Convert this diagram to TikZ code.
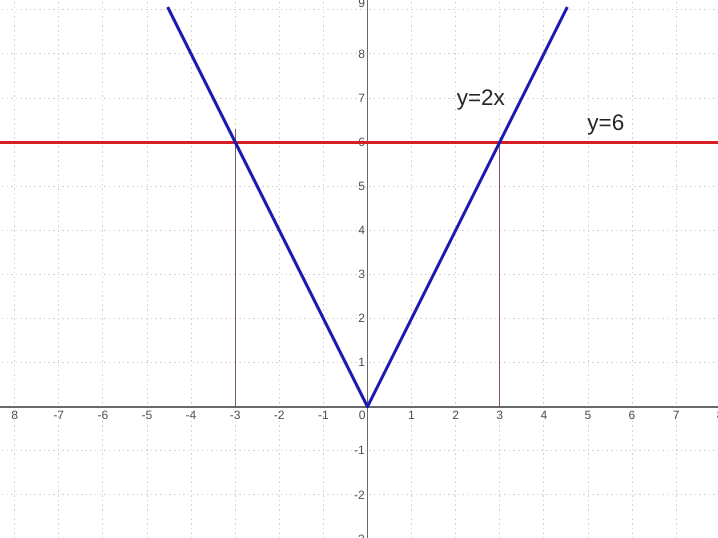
\documentclass[tikz,border=0pt]{standalone}
\usepackage{fontspec}
\setmainfont{Liberation Sans}
\definecolor{gridc}{RGB}{210,210,210}
\definecolor{axisc}{RGB}{105,105,105}
\definecolor{labc}{RGB}{80,80,80}
\definecolor{vblue}{RGB}{28,28,178}
\definecolor{hred}{RGB}{212,32,36}
\definecolor{dropc}{RGB}{125,90,100}
\begin{document}
\begin{tikzpicture}[x=1cm,y=1cm,
  gridline/.style={gridc, line width=0.6pt, dash pattern=on 1pt off 2pt},
  axisline/.style={axisc, line width=1.2pt},
  ticklab/.style={font=\fontsize{7.8}{9}\selectfont, text=labc, inner sep=0pt},
  graphline/.style={vblue, line width=1.9pt, line join=round},
  levelline/.style={hred, line width=1.9pt},
  dropline/.style={dropc, line width=0.7pt},
  eqlab/.style={font=\fontsize{14.5}{17}\selectfont, text=black!85, inner sep=0pt, anchor=base west}]
\useasboundingbox (-8.333,-2.955) rectangle (7.948,9.222);
% grid
\foreach \i in {-8,...,8} \draw[gridline] (\i,-3.2) -- (\i,9.4);
\foreach \j in {-3,...,9} \draw[gridline] (-8.5,\j) -- (8.2,\j);
% axes
\coordinate (xl) at (-8.5,0);
\coordinate (xr) at (8.2,0);
\coordinate (yb) at (0,-3.2);
\coordinate (yt) at (0,9.4);
\draw[axisline] (xl) -- (xr);
\draw[axisline] (yb) -- (yt);
% x tick labels
\foreach \i/\t in {-8/8,-7/-7,-6/-6,-5/-5,-4/-4,-3/-3,-2/-2,-1/-1,1/1,2/2,3/3,4/4,5/5,6/6,7/7,8/8}
  \node[ticklab] (xt\i) at (\i,-0.2) {\t};
\node[ticklab] (xt0) at (-0.12,-0.2) {0};
% y tick labels
\foreach \j in {-3,-2,-1,1,2,3,4,5,6,7,8}
  \node[ticklab, anchor=east] (yt\j) at (-0.05,\j) {\j};
\node[ticklab, anchor=east] (yt9) at (-0.05,9.15) {9};
% key points
\coordinate (O) at (0,0);
\coordinate (A) at (-3,6);
\coordinate (B) at (3,6);
\coordinate (Ab) at (-3,0);
\coordinate (At) at (-3,6.3);
\coordinate (Bb) at (3,0);
\coordinate (L) at (-4.53,9.06);
\coordinate (R) at (4.53,9.06);
\coordinate (hl) at (-8.5,6);
\coordinate (hr) at (8.2,6);
% drop lines
\draw[dropline] (Ab) -- (At);
\draw[dropline] (Bb) -- (B);
% y = 6
\draw[levelline] (hl) -- (hr);
% y = |2x|
\draw[graphline] (L) -- (O) -- (R);
% labels
\node[eqlab] (lab2x) at (2.02,6.82) {y=2x};
\node[eqlab] (lab6) at (4.98,6.27) {y=6};
\end{tikzpicture}
\end{document}
